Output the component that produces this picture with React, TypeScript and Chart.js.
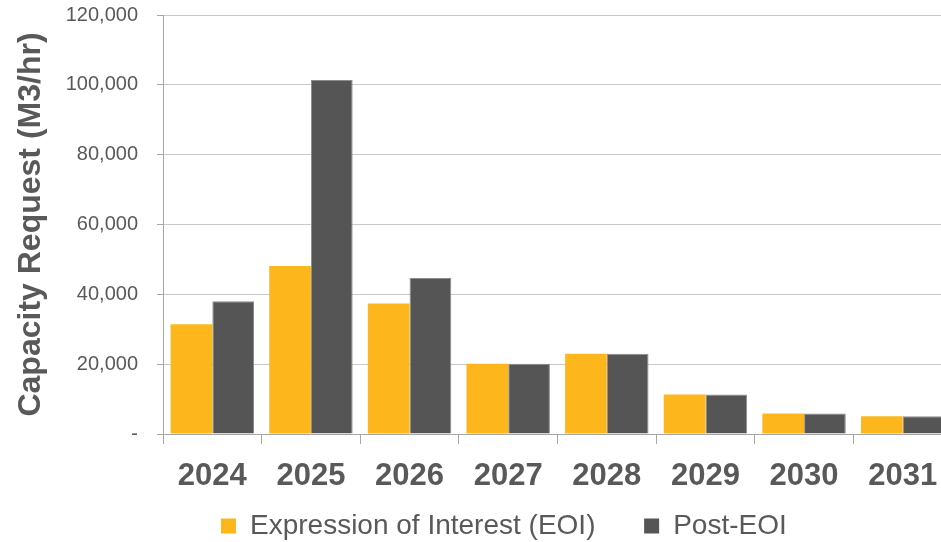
import React, { useEffect, useRef } from "react";
import { Chart, registerables } from "chart.js";

Chart.register(...registerables);

const categories = ["2024", "2025", "2026", "2027", "2028", "2029", "2030", "2031"];
const eoiValues = [31400, 48100, 37400, 20100, 23000, 11300, 5900, 5100];
const postEoiValues = [38000, 101400, 44700, 20100, 23000, 11300, 5900, 5100];
const seriesNames = ["Expression of Interest (EOI)", "Post-EOI"];
const yTitle = "Capacity Request (M3/hr)";

const FONT = "'Liberation Sans', Arial, sans-serif";

const legendShift = {
  id: "legendShift",
  afterLayout(chart: any) {
    const lg = chart.legend;
    if (!lg) return;
    const dx = 219 - lg.left;
    lg.left += dx;
    lg.right += dx;
    lg.top += 8;
    lg.bottom += 8;
  },
};

export default function App() {
  const ref = useRef<HTMLCanvasElement | null>(null);

  useEffect(() => {
    if (!ref.current) return;
    const chart = new Chart(ref.current, {
      type: "bar",
      data: {
        labels: categories,
        datasets: [
          {
            label: seriesNames[0],
            data: eoiValues,
            backgroundColor: "#FDB71C",
            borderWidth: 0,
            categoryPercentage: 0.846,
            barPercentage: 1,
          },
          {
            label: seriesNames[1],
            data: postEoiValues,
            backgroundColor: "#555555",
            borderColor: "#8C8C8C",
            borderWidth: 1,
            categoryPercentage: 0.846,
            barPercentage: 1,
          },
        ],
      },
      plugins: [legendShift],
      options: {
        animation: false,
        responsive: false,
        maintainAspectRatio: false,
        layout: { padding: { left: 12, top: 15, right: 8, bottom: 0 } },
        plugins: {
          tooltip: { enabled: false },
          legend: {
            position: "bottom",
            align: "start",
            labels: {
              boxWidth: 15,
              boxHeight: 15,
              padding: 2,
              color: "#595959",
              font: { family: FONT, size: 28 },
              generateLabels: (c: any) => {
                const items = Chart.defaults.plugins.legend.labels.generateLabels(c);
                items.forEach((it: any, i: number) => {
                  if (i === 0) it.text = it.text + "      ";
                  it.lineWidth = 0;
                });
                return items;
              },
            },
          },
        },
        scales: {
          x: {
            grid: {
              drawOnChartArea: false,
              drawTicks: true,
              tickLength: 10,
              color: "#A6A6A6",
              offset: true,
            },
            border: { color: "#A6A6A6", width: 1 },
            ticks: {
              color: "#595959",
              padding: 14,
              maxRotation: 0,
              font: { family: FONT, size: 31, weight: "bold" },
            },
            afterFit: (s: any) => {
              s.height = 68;
            },
          },
          y: {
            min: 0,
            max: 120000,
            ticks: {
              stepSize: 20000,
              color: "#595959",
              padding: 19,
              font: { family: FONT, size: 20 },
              callback: (v: any) => (Number(v) === 0 ? "-" : Number(v).toLocaleString("en-US")),
            },
            grid: {
              color: "#C8C8C8",
              lineWidth: 1,
              tickLength: 6,
              tickColor: "#A6A6A6",
            },
            border: { color: "#A6A6A6", width: 1 },
            title: {
              display: true,
              text: yTitle,
              color: "#595959",
              padding: { top: 0, bottom: 8 },
              font: { family: FONT, size: 32, weight: "bold" },
            },
            afterFit: (s: any) => {
              s.width = 151;
              s.paddingTop = 0;
              s.paddingBottom = 0;
            },
          },
        },
      },
    });
    return () => chart.destroy();
  }, []);

  return (
    <div
      style={{
        position: "absolute",
        left: 0,
        top: 0,
        width: 941,
        height: 542,
        overflow: "hidden",
        background: "#fff",
      }}
    >
      <canvas ref={ref} width={960} height={542} style={{ width: 960, height: 542, display: "block" }} />
    </div>
  );
}
